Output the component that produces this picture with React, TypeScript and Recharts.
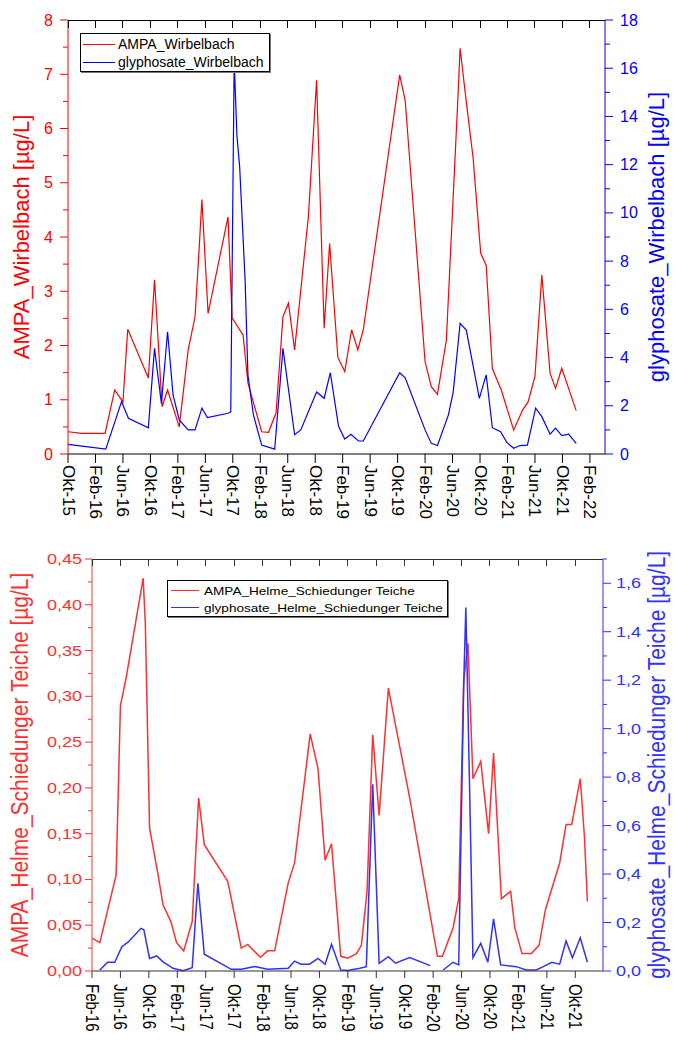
import { LineChart, Line, XAxis, YAxis, Legend } from 'recharts'

const FONT = '"Liberation Sans", Arial, sans-serif'

// x values are months: top panel counts from Okt-15, bottom panel from Feb-16
const wirbelbachXTicks = [0, 4, 8, 12, 16, 20, 24, 28, 32, 36, 40, 44, 48, 52, 56, 60, 64, 68, 72, 76]
const wirbelbachXLabels = [
  'Okt-15', 'Feb-16', 'Jun-16', 'Okt-16', 'Feb-17', 'Jun-17', 'Okt-17', 'Feb-18', 'Jun-18', 'Okt-18',
  'Feb-19', 'Jun-19', 'Okt-19', 'Feb-20', 'Jun-20', 'Okt-20', 'Feb-21', 'Jun-21', 'Okt-21', 'Feb-22',
]
const helmeXTicks = [0, 4, 8, 12, 16, 20, 24, 28, 32, 36, 40, 44, 48, 52, 56, 60, 64, 68]
const helmeXLabels = [
  'Feb-16', 'Jun-16', 'Okt-16', 'Feb-17', 'Jun-17', 'Okt-17', 'Feb-18', 'Jun-18', 'Okt-18',
  'Feb-19', 'Jun-19', 'Okt-19', 'Feb-20', 'Jun-20', 'Okt-20', 'Feb-21', 'Jun-21', 'Okt-21',
]

const ampaWirbelbachTicks = [0, 0.5, 1, 1.5, 2, 2.5, 3, 3.5, 4, 4.5, 5, 5.5, 6, 6.5, 7, 7.5, 8]
const glyWirbelbachTicks = [0, 1, 2, 3, 4, 5, 6, 7, 8, 9, 10, 11, 12, 13, 14, 15, 16, 17, 18]
const ampaHelmeTicks = [
  0, 0.025, 0.05, 0.075, 0.1, 0.125, 0.15, 0.175, 0.2, 0.225, 0.25, 0.275, 0.3, 0.325, 0.35, 0.375, 0.4, 0.425, 0.45,
]
const glyHelmeTicks = [0, 0.1, 0.2, 0.3, 0.4, 0.5, 0.6, 0.7, 0.8, 0.9, 1.0, 1.1, 1.2, 1.3, 1.4, 1.5, 1.6, 1.7]

const ampaWirbelbach = [
  { t: 0, v: 0.41 }, { t: 2.0, v: 0.38 }, { t: 5.4, v: 0.38 }, { t: 6.8, v: 1.18 }, { t: 8.0, v: 0.96 },
  { t: 8.7, v: 2.3 }, { t: 11.7, v: 1.4 }, { t: 12.6, v: 3.21 }, { t: 13.7, v: 0.87 }, { t: 14.5, v: 1.18 },
  { t: 16.2, v: 0.5 }, { t: 17.5, v: 1.92 }, { t: 18.5, v: 2.53 }, { t: 19.1, v: 3.79 }, { t: 19.5, v: 4.69 },
  { t: 20.4, v: 2.59 }, { t: 23.3, v: 4.37 }, { t: 23.9, v: 2.51 }, { t: 25.5, v: 2.19 }, { t: 26.2, v: 1.31 },
  { t: 28.2, v: 0.41 }, { t: 29.2, v: 0.4 }, { t: 30.3, v: 0.76 }, { t: 31.3, v: 2.53 }, { t: 32.1, v: 2.78 },
  { t: 33.0, v: 1.92 }, { t: 35.0, v: 4.37 }, { t: 36.2, v: 6.89 }, { t: 37.3, v: 2.32 }, { t: 38.1, v: 3.88 },
  { t: 39.3, v: 1.78 }, { t: 40.3, v: 1.52 }, { t: 41.3, v: 2.29 }, { t: 42.2, v: 1.92 }, { t: 43.0, v: 2.29 },
  { t: 48.3, v: 6.99 }, { t: 49.1, v: 6.52 }, { t: 52.0, v: 1.7 }, { t: 52.9, v: 1.24 }, { t: 53.8, v: 1.1 },
  { t: 55.1, v: 2.1 }, { t: 56.8, v: 6.62 }, { t: 57.1, v: 7.48 }, { t: 58.0, v: 6.49 }, { t: 59.0, v: 5.45 },
  { t: 60.1, v: 3.7 }, { t: 60.9, v: 3.48 }, { t: 61.8, v: 1.57 }, { t: 63.1, v: 1.18 }, { t: 64.9, v: 0.44 },
  { t: 66.2, v: 0.81 }, { t: 67.0, v: 0.96 }, { t: 68.0, v: 1.43 }, { t: 69.0, v: 3.3 }, { t: 70.2, v: 1.49 },
  { t: 71.0, v: 1.21 }, { t: 71.9, v: 1.58 }, { t: 74.0, v: 0.8 },
]

const glyWirbelbach = [
  { t: 0, v: 0.4 }, { t: 5.5, v: 0.2 }, { t: 7.8, v: 2.17 }, { t: 8.8, v: 1.48 }, { t: 11.7, v: 1.09 },
  { t: 12.6, v: 4.38 }, { t: 13.6, v: 2.1 }, { t: 14.5, v: 5.07 }, { t: 15.3, v: 2.45 }, { t: 16.2, v: 1.41 },
  { t: 17.5, v: 1.0 }, { t: 18.5, v: 1.0 }, { t: 19.5, v: 1.9 }, { t: 20.3, v: 1.51 }, { t: 23.3, v: 1.69 },
  { t: 23.7, v: 1.75 }, { t: 24.2, v: 16.3 }, { t: 24.6, v: 13.2 }, { t: 25.0, v: 11.9 }, { t: 25.8, v: 7.15 },
  { t: 26.2, v: 3.28 }, { t: 27.0, v: 1.62 }, { t: 28.2, v: 0.37 }, { t: 30.1, v: 0.2 }, { t: 31.3, v: 4.38 },
  { t: 33.0, v: 0.8 }, { t: 33.9, v: 1.0 }, { t: 36.2, v: 2.57 }, { t: 37.3, v: 2.31 }, { t: 38.2, v: 3.37 },
  { t: 39.4, v: 1.15 }, { t: 40.3, v: 0.62 }, { t: 41.2, v: 0.82 }, { t: 42.3, v: 0.54 }, { t: 43.0, v: 0.54 },
  { t: 48.3, v: 3.37 }, { t: 49.1, v: 3.16 }, { t: 52.0, v: 1.0 }, { t: 52.9, v: 0.44 }, { t: 53.8, v: 0.35 },
  { t: 55.4, v: 1.62 }, { t: 56.1, v: 2.58 }, { t: 57.1, v: 5.42 }, { t: 58.0, v: 5.14 }, { t: 59.9, v: 2.31 },
  { t: 60.9, v: 3.28 }, { t: 61.8, v: 1.09 }, { t: 63.0, v: 0.92 }, { t: 63.9, v: 0.48 }, { t: 64.9, v: 0.24 },
  { t: 65.8, v: 0.35 }, { t: 66.9, v: 0.37 }, { t: 68.1, v: 1.9 }, { t: 69.0, v: 1.55 }, { t: 70.2, v: 0.82 },
  { t: 71.0, v: 1.07 }, { t: 71.9, v: 0.76 }, { t: 72.9, v: 0.82 }, { t: 74.0, v: 0.44 },
]

const ampaHelme = [
  { t: 0, v: 0.036 }, { t: 1.1, v: 0.031 }, { t: 3.4, v: 0.105 }, { t: 4.0, v: 0.29 }, { t: 4.8, v: 0.32 },
  { t: 7.2, v: 0.429 }, { t: 7.5, v: 0.38 }, { t: 8.1, v: 0.156 }, { t: 9.3, v: 0.105 }, { t: 10.0, v: 0.072 },
  { t: 11.1, v: 0.054 }, { t: 11.9, v: 0.031 }, { t: 12.9, v: 0.022 }, { t: 14.1, v: 0.054 }, { t: 15.0, v: 0.189 },
  { t: 15.8, v: 0.138 }, { t: 19.1, v: 0.098 }, { t: 21.0, v: 0.025 }, { t: 21.9, v: 0.029 }, { t: 23.7, v: 0.015 },
  { t: 24.7, v: 0.022 }, { t: 25.7, v: 0.022 }, { t: 27.6, v: 0.096 }, { t: 28.5, v: 0.118 }, { t: 30.7, v: 0.259 },
  { t: 31.8, v: 0.221 }, { t: 32.8, v: 0.121 }, { t: 33.7, v: 0.139 }, { t: 35.0, v: 0.016 }, { t: 36.0, v: 0.014 },
  { t: 37.2, v: 0.019 }, { t: 37.9, v: 0.028 }, { t: 38.7, v: 0.087 }, { t: 39.5, v: 0.258 }, { t: 40.4, v: 0.17 },
  { t: 41.7, v: 0.309 }, { t: 44.7, v: 0.189 }, { t: 48.6, v: 0.016 }, { t: 49.3, v: 0.016 }, { t: 50.8, v: 0.047 },
  { t: 51.6, v: 0.079 }, { t: 52.3, v: 0.316 }, { t: 52.9, v: 0.358 }, { t: 53.6, v: 0.21 }, { t: 54.7, v: 0.229 },
  { t: 55.8, v: 0.15 }, { t: 56.5, v: 0.238 }, { t: 57.6, v: 0.079 }, { t: 58.9, v: 0.087 }, { t: 59.5, v: 0.047 },
  { t: 60.5, v: 0.019 }, { t: 61.8, v: 0.019 }, { t: 62.9, v: 0.028 }, { t: 63.8, v: 0.067 }, { t: 65.8, v: 0.118 },
  { t: 66.7, v: 0.16 }, { t: 67.5, v: 0.16 }, { t: 68.7, v: 0.21 }, { t: 69.3, v: 0.145 }, { t: 69.7, v: 0.076 },
]

// null leaves the gap visible around Feb-20
const glyHelme = [
  { t: 1.1, v: 0.004 }, { t: 2.2, v: 0.036 }, { t: 3.2, v: 0.036 }, { t: 4.2, v: 0.1 }, { t: 5.1, v: 0.12 },
  { t: 6.9, v: 0.176 }, { t: 7.3, v: 0.17 }, { t: 8.1, v: 0.052 }, { t: 9.1, v: 0.062 }, { t: 10.0, v: 0.038 },
  { t: 11.4, v: 0.011 }, { t: 12.8, v: 0.001 }, { t: 14.1, v: 0.014 }, { t: 14.9, v: 0.362 }, { t: 15.8, v: 0.069 },
  { t: 19.6, v: 0.007 }, { t: 21.0, v: 0.007 }, { t: 22.9, v: 0.018 }, { t: 24.7, v: 0.007 }, { t: 27.6, v: 0.011 },
  { t: 28.5, v: 0.041 }, { t: 29.4, v: 0.028 }, { t: 30.6, v: 0.028 }, { t: 31.8, v: 0.052 }, { t: 32.8, v: 0.028 },
  { t: 33.7, v: 0.11 }, { t: 35.0, v: 0.004 }, { t: 36.0, v: 0.002 }, { t: 37.7, v: 0.011 }, { t: 38.6, v: 0.018 },
  { t: 39.5, v: 0.77 }, { t: 40.4, v: 0.032 }, { t: 41.7, v: 0.059 }, { t: 42.7, v: 0.032 }, { t: 44.7, v: 0.055 },
  { t: 47.6, v: 0.022 }, { t: 48.1, v: null }, { t: 49.4, v: 0.004 }, { t: 50.8, v: 0.036 }, { t: 51.6, v: 0.025 },
  { t: 52.3, v: 1.18 }, { t: 52.6, v: 1.5 }, { t: 53.1, v: 0.8 }, { t: 53.6, v: 0.055 }, { t: 54.7, v: 0.114 },
  { t: 55.7, v: 0.036 }, { t: 56.5, v: 0.215 }, { t: 57.5, v: 0.025 }, { t: 59.7, v: 0.018 }, { t: 61.1, v: 0.004 },
  { t: 62.5, v: 0.004 }, { t: 63.5, v: 0.018 }, { t: 64.7, v: 0.036 }, { t: 65.8, v: 0.028 }, { t: 66.7, v: 0.124 },
  { t: 67.6, v: 0.055 }, { t: 68.7, v: 0.137 }, { t: 69.7, v: 0.036 },
]

interface YTickOpts {
  side: 'left' | 'right'
  color: string
  size: number
  sx: number
  majorLen: number
  minorLen: number
  gap: number
  isMajor: (v: number) => boolean
  fmt: (v: number) => string
}

function makeYTick(o: YTickOpts) {
  return (p: any) => {
    const v = p.payload.value
    const major = o.isMajor(v)
    const dir = o.side === 'left' ? -1 : 1
    const len = major ? o.majorLen : o.minorLen
    const tx = p.x + dir * (o.majorLen + o.gap)
    return (
      <g>
        <line x1={p.x} y1={p.y} x2={p.x + dir * len} y2={p.y} stroke={o.color} />
        {major && (
          <text
            transform={`translate(${tx},${p.y}) scale(${o.sx},1)`}
            textAnchor={o.side === 'left' ? 'end' : 'start'}
            dominantBaseline="central"
            fill={o.color}
            fontSize={o.size}
            fontFamily={FONT}
          >
            {o.fmt(v)}
          </text>
        )}
      </g>
    )
  }
}

function makeXTick(ticks: number[], labels: string[], size: number, sx: number) {
  return (p: any) => (
    <text
      transform={`translate(${p.x},${p.y}) scale(${sx},1) rotate(90)`}
      textAnchor="start"
      dominantBaseline="central"
      fill="#000"
      fontSize={size}
      fontFamily={FONT}
    >
      {labels[ticks.indexOf(p.payload.value)]}
    </text>
  )
}

function makeTitle(text: string, color: string, baseX: number, size: number, sx: number) {
  return (p: any) => {
    const vb = p.viewBox || {}
    const cx = (vb.x ?? 0) + baseX
    const cy = (vb.y ?? 0) + (vb.height ?? 0) / 2
    return (
      <text
        transform={`translate(${cx},${cy}) scale(${sx},1) rotate(-90)`}
        textAnchor="middle"
        fill={color}
        fontSize={size}
        fontFamily={FONT}
      >
        {text}
      </text>
    )
  }
}

// upper frame of a panel with inward ticks, laid over the chart
function TopFrame({ left, top, width, ticks, xMax, depth, color }: {
  left: number; top: number; width: number; ticks: number[]; xMax: number; depth: number; color: string
}) {
  return (
    <div style={{ position: 'absolute', left, top, width, height: depth, zIndex: 10, pointerEvents: 'none' }}>
      <div style={{ position: 'absolute', left: 0, top: 0, width, height: 0, borderTop: `1px solid ${color}` }} />
      {ticks.map((t) => (
        <div
          key={t}
          style={{
            position: 'absolute', left: (t / xMax) * width - 0.5, top: 0, width: 0, height: depth,
            borderLeft: `1px solid ${color}`,
          }}
        />
      ))}
    </div>
  )
}

interface LegendItem { name: string; color: string }

function LegendBox({ items, size, sx, lineLen, rowH, padL, gap, padT }: {
  items: LegendItem[]; size: number; sx: number; lineLen: number; rowH: number; padL: number; gap: number; padT: number
}) {
  return (
    <div
      style={{
        boxSizing: 'border-box', width: '100%', height: '100%', border: '1px solid #000',
        boxShadow: '1px 1px 0 #777', background: '#fff', fontFamily: FONT, fontSize: size,
        paddingLeft: padL, paddingTop: padT,
      }}
    >
      {items.map((it) => (
        <div key={it.name} style={{ display: 'flex', alignItems: 'center', height: rowH, whiteSpace: 'nowrap' }}>
          <span style={{ display: 'inline-block', width: lineLen, borderTop: `1.3px solid ${it.color}`, marginRight: gap }} />
          <span style={{ display: 'inline-block', transform: `scaleX(${sx})`, transformOrigin: 'left center', color: '#000' }}>
            {it.name}
          </span>
        </div>
      ))}
    </div>
  )
}

const comma = (v: number, d: number) => v.toFixed(d).replace('.', ',')

// chart frames
const W = 677
const TOP_H = 530
const TOP_M = 20
const TOP_XH = 76
const TOP_YL = 68
const TOP_YR = 72
const TOP_XMAX = 78.2
const BOT_H = 513
const BOT_M = 29
const BOT_XH = 72
const BOT_YL = 92
const BOT_YR = 74
const BOT_XMAX = 71.9

function WirbelbachChart() {
  const red = '#ff0000'
  const blue = '#0000ff'
  return (
    <LineChart width={W} height={TOP_H} margin={{ top: TOP_M, right: 0, bottom: 0, left: 0 }}>
      <XAxis
        type="number" dataKey="t" domain={[0, TOP_XMAX]} ticks={wirbelbachXTicks} interval={0}
        height={TOP_XH} stroke="#000" tickSize={9} tickMargin={2}
        tick={makeXTick(wirbelbachXTicks, wirbelbachXLabels, 17, 1)}
      />
      <YAxis
        yAxisId="left" domain={[0, 8]} ticks={ampaWirbelbachTicks} interval={0} width={TOP_YL}
        axisLine={{ stroke: red }} tickLine={false} tickSize={0} tickMargin={0}
        tick={makeYTick({
          side: 'left', color: red, size: 16, sx: 1, majorLen: 8, minorLen: 5, gap: 7,
          isMajor: (v) => Number.isInteger(v), fmt: (v) => String(v),
        })}
        label={makeTitle('AMPA_Wirbelbach [µg/L]', red, 28.5, 22, 1)}
      />
      <YAxis
        yAxisId="right" orientation="right" domain={[0, 18]} ticks={glyWirbelbachTicks} interval={0} width={TOP_YR}
        axisLine={{ stroke: blue }} tickLine={false} tickSize={0} tickMargin={0}
        tick={makeYTick({
          side: 'right', color: blue, size: 16, sx: 1, majorLen: 8, minorLen: 5, gap: 7,
          isMajor: (v) => v % 2 === 0, fmt: (v) => String(v),
        })}
        label={makeTitle('glyphosate_Wirbelbach [µg/L]', blue, 59, 22, 1)}
      />
      <Line
        yAxisId="left" data={ampaWirbelbach} dataKey="v" name="AMPA_Wirbelbach" type="linear"
        stroke={red} strokeWidth={1.2} dot={false} isAnimationActive={false}
      />
      <Line
        yAxisId="right" data={glyWirbelbach} dataKey="v" name="glyphosate_Wirbelbach" type="linear"
        stroke={blue} strokeWidth={1.2} dot={false} isAnimationActive={false}
      />
      <Legend
        layout="horizontal" verticalAlign="middle" align="center"
        wrapperStyle={{ left: 80, top: 33, width: 190, height: 39 }}
        content={() => (
          <LegendBox
            items={[{ name: 'AMPA_Wirbelbach', color: red }, { name: 'glyphosate_Wirbelbach', color: blue }]}
            size={14} sx={1} lineLen={32} rowH={18} padL={2} gap={3} padT={1}
          />
        )}
      />
    </LineChart>
  )
}

function HelmeChart() {
  const red = '#ff3030'
  const blue = '#3030ff'
  return (
    <LineChart width={W} height={BOT_H} margin={{ top: BOT_M, right: 0, bottom: 0, left: 0 }}>
      <XAxis
        type="number" dataKey="t" domain={[0, BOT_XMAX]} ticks={helmeXTicks} interval={0}
        height={BOT_XH} stroke="#333" tickSize={7} tickMargin={6}
        tick={makeXTick(helmeXTicks, helmeXLabels, 15, 1.2)}
      />
      <YAxis
        yAxisId="left" domain={[0, 0.45]} ticks={ampaHelmeTicks} interval={0} width={BOT_YL}
        axisLine={{ stroke: red }} tickLine={false} tickSize={0} tickMargin={0}
        tick={makeYTick({
          side: 'left', color: red, size: 15, sx: 1.2, majorLen: 7, minorLen: 4, gap: 3,
          isMajor: (v) => Math.round(v * 1000) % 50 === 0, fmt: (v) => comma(v, 2),
        })}
        label={makeTitle('AMPA_Helme_Schiedunger Teiche [µg/L]', red, 28.4, 21, 1.1)}
      />
      <YAxis
        yAxisId="right" orientation="right" domain={[0, 1.7]} ticks={glyHelmeTicks} interval={0} width={BOT_YR}
        axisLine={{ stroke: blue }} tickLine={false} tickSize={0} tickMargin={0}
        tick={makeYTick({
          side: 'right', color: blue, size: 15, sx: 1.2, majorLen: 8, minorLen: 4, gap: 5,
          isMajor: (v) => Math.round(v * 10) % 2 === 0, fmt: (v) => comma(v, 1),
        })}
        label={makeTitle('glyphosate_Helme_Schiedunger Teiche [µg/L]', blue, 62, 21, 1.1)}
      />
      <Line
        yAxisId="left" data={ampaHelme} dataKey="v" name="AMPA_Helme_Schiedunger Teiche" type="linear"
        stroke={red} strokeWidth={1.5} dot={false} isAnimationActive={false}
      />
      <Line
        yAxisId="right" data={glyHelme} dataKey="v" name="glyphosate_Helme_Schiedunger Teiche" type="linear"
        stroke={blue} strokeWidth={1.5} dot={false} isAnimationActive={false}
      />
      <Legend
        layout="horizontal" verticalAlign="middle" align="center"
        wrapperStyle={{ left: 167, top: 50, width: 281, height: 37 }}
        content={() => (
          <LegendBox
            items={[
              { name: 'AMPA_Helme_Schiedunger Teiche', color: red },
              { name: 'glyphosate_Helme_Schiedunger Teiche', color: blue },
            ]}
            size={11.5} sx={1.18} lineLen={28} rowH={16.7} padL={2.5} gap={5} padT={1.5}
          />
        )}
      />
    </LineChart>
  )
}

export default function App() {
  return (
    <div style={{ position: 'absolute', left: 0, top: 0, width: W, height: 1043, background: '#fff' }}>
      <div style={{ position: 'absolute', left: 0, top: 0, width: W, height: TOP_H }}>
        <WirbelbachChart />
        <TopFrame
          left={TOP_YL} top={TOP_M} width={W - TOP_YL - TOP_YR} ticks={wirbelbachXTicks}
          xMax={TOP_XMAX} depth={8} color="#000"
        />
      </div>
      <div style={{ position: 'absolute', left: 0, top: TOP_H, width: W, height: BOT_H }}>
        <HelmeChart />
        <TopFrame
          left={BOT_YL} top={BOT_M} width={W - BOT_YL - BOT_YR} ticks={helmeXTicks}
          xMax={BOT_XMAX} depth={7} color="#333"
        />
      </div>
    </div>
  )
}
